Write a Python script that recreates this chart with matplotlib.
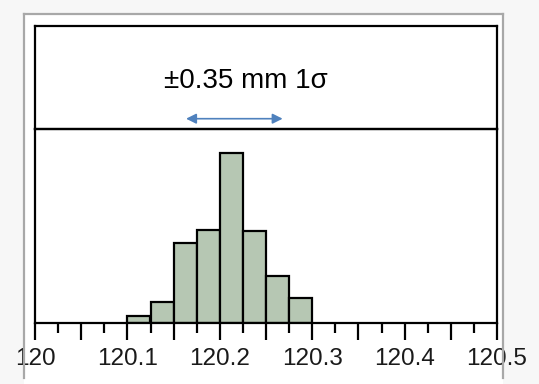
import numpy as np
import matplotlib.pyplot as plt
from matplotlib.lines import Line2D
from matplotlib.patches import Rectangle

# histogram data (bin edges at 0.025 mm, heights)
bin_left = [120.1, 120.125, 120.15, 120.175, 120.2, 120.225, 120.25, 120.275]
counts = [1.0, 2.9, 11.4, 13.3, 24.2, 13.1, 6.7, 3.6]
bin_width = 0.025

tick_pos = [120.0, 120.05, 120.1, 120.15, 120.2, 120.25, 120.3, 120.35, 120.4, 120.45, 120.5]
tick_labels = ['120', '', '120.1', '', '120.2', '', '120.3', '', '120.4', '', '120.5']
minor_pos = [120.025, 120.075, 120.125, 120.175, 120.225, 120.275, 120.325, 120.375, 120.425, 120.475]

note = '±0.35 mm 1σ'
arrow_x = (120.1635, 120.268)

W, H = 539, 384
fig = plt.figure(figsize=(W / 100, H / 100), dpi=100)
fig.patch.set_facecolor('#f7f7f7')

# white panel and grey frame around it
fig.patches.append(Rectangle((24 / W, 0), (503 - 24) / W, 1 - 14 / H,
                             transform=fig.transFigure, facecolor='white',
                             edgecolor='none', zorder=-5))
frame_kw = dict(transform=fig.transFigure, color='#a8a8a8', lw=1.6, zorder=5)
fig.lines.append(Line2D([24 / W, 24 / W], [1 - 378 / H, 1 - 14 / H], **frame_kw))
fig.lines.append(Line2D([503 / W, 503 / W], [1 - 378 / H, 1 - 14 / H], **frame_kw))
fig.lines.append(Line2D([24 / W, 503 / W], [1 - 14 / H, 1 - 14 / H], **frame_kw))

left = 35 / W
width = (497 - 35) / W
y_axis = 1 - 322.7 / H
y_div = 1 - 129 / H
y_top = 1 - 26 / H

# lower panel: histogram
ax = fig.add_axes([left, y_axis, width, y_div - y_axis])
ax.patch.set_alpha(0)
ax.bar(bin_left, counts, width=bin_width, align='edge',
       color='#b6c7b3', edgecolor='black', linewidth=1.6, zorder=2)
ax.set_xlim(120.0, 120.5)
ax.set_ylim(0, 27.7)
ax.set_yticks([])
ax.set_xticks(tick_pos)
ax.set_xticklabels(tick_labels, family=['Liberation Sans', 'DejaVu Sans'],
                   fontsize=17.5, color='#1a1a1a')
ax.set_xticks(minor_pos, minor=True)
ax.tick_params(axis='x', which='major', length=12, width=1.6, pad=6)
ax.tick_params(axis='x', which='minor', length=7, width=1.6)
for s in ax.spines.values():
    s.set_linewidth(1.6)

# upper panel: spread annotation
ax2 = fig.add_axes([left, y_div, width, y_top - y_div])
ax2.patch.set_alpha(0)
ax2.set_xlim(120.0, 120.5)
ax2.set_ylim(0, 1)
ax2.set_xticks([])
ax2.set_yticks([])
for s in ax2.spines.values():
    s.set_linewidth(1.6)
ax2.text(120.228, 0.47, note, ha='center', va='center', fontsize=20,
         family=['Liberation Sans', 'DejaVu Sans'])
ax2.annotate('', xy=(arrow_x[0], 0.1), xytext=(arrow_x[1], 0.1),
             arrowprops=dict(arrowstyle='<|-|>', color='#4f81bd', lw=1.2,
                             mutation_scale=15, shrinkA=0, shrinkB=0))

fig.savefig('out.png', dpi=100, facecolor=fig.get_facecolor())
